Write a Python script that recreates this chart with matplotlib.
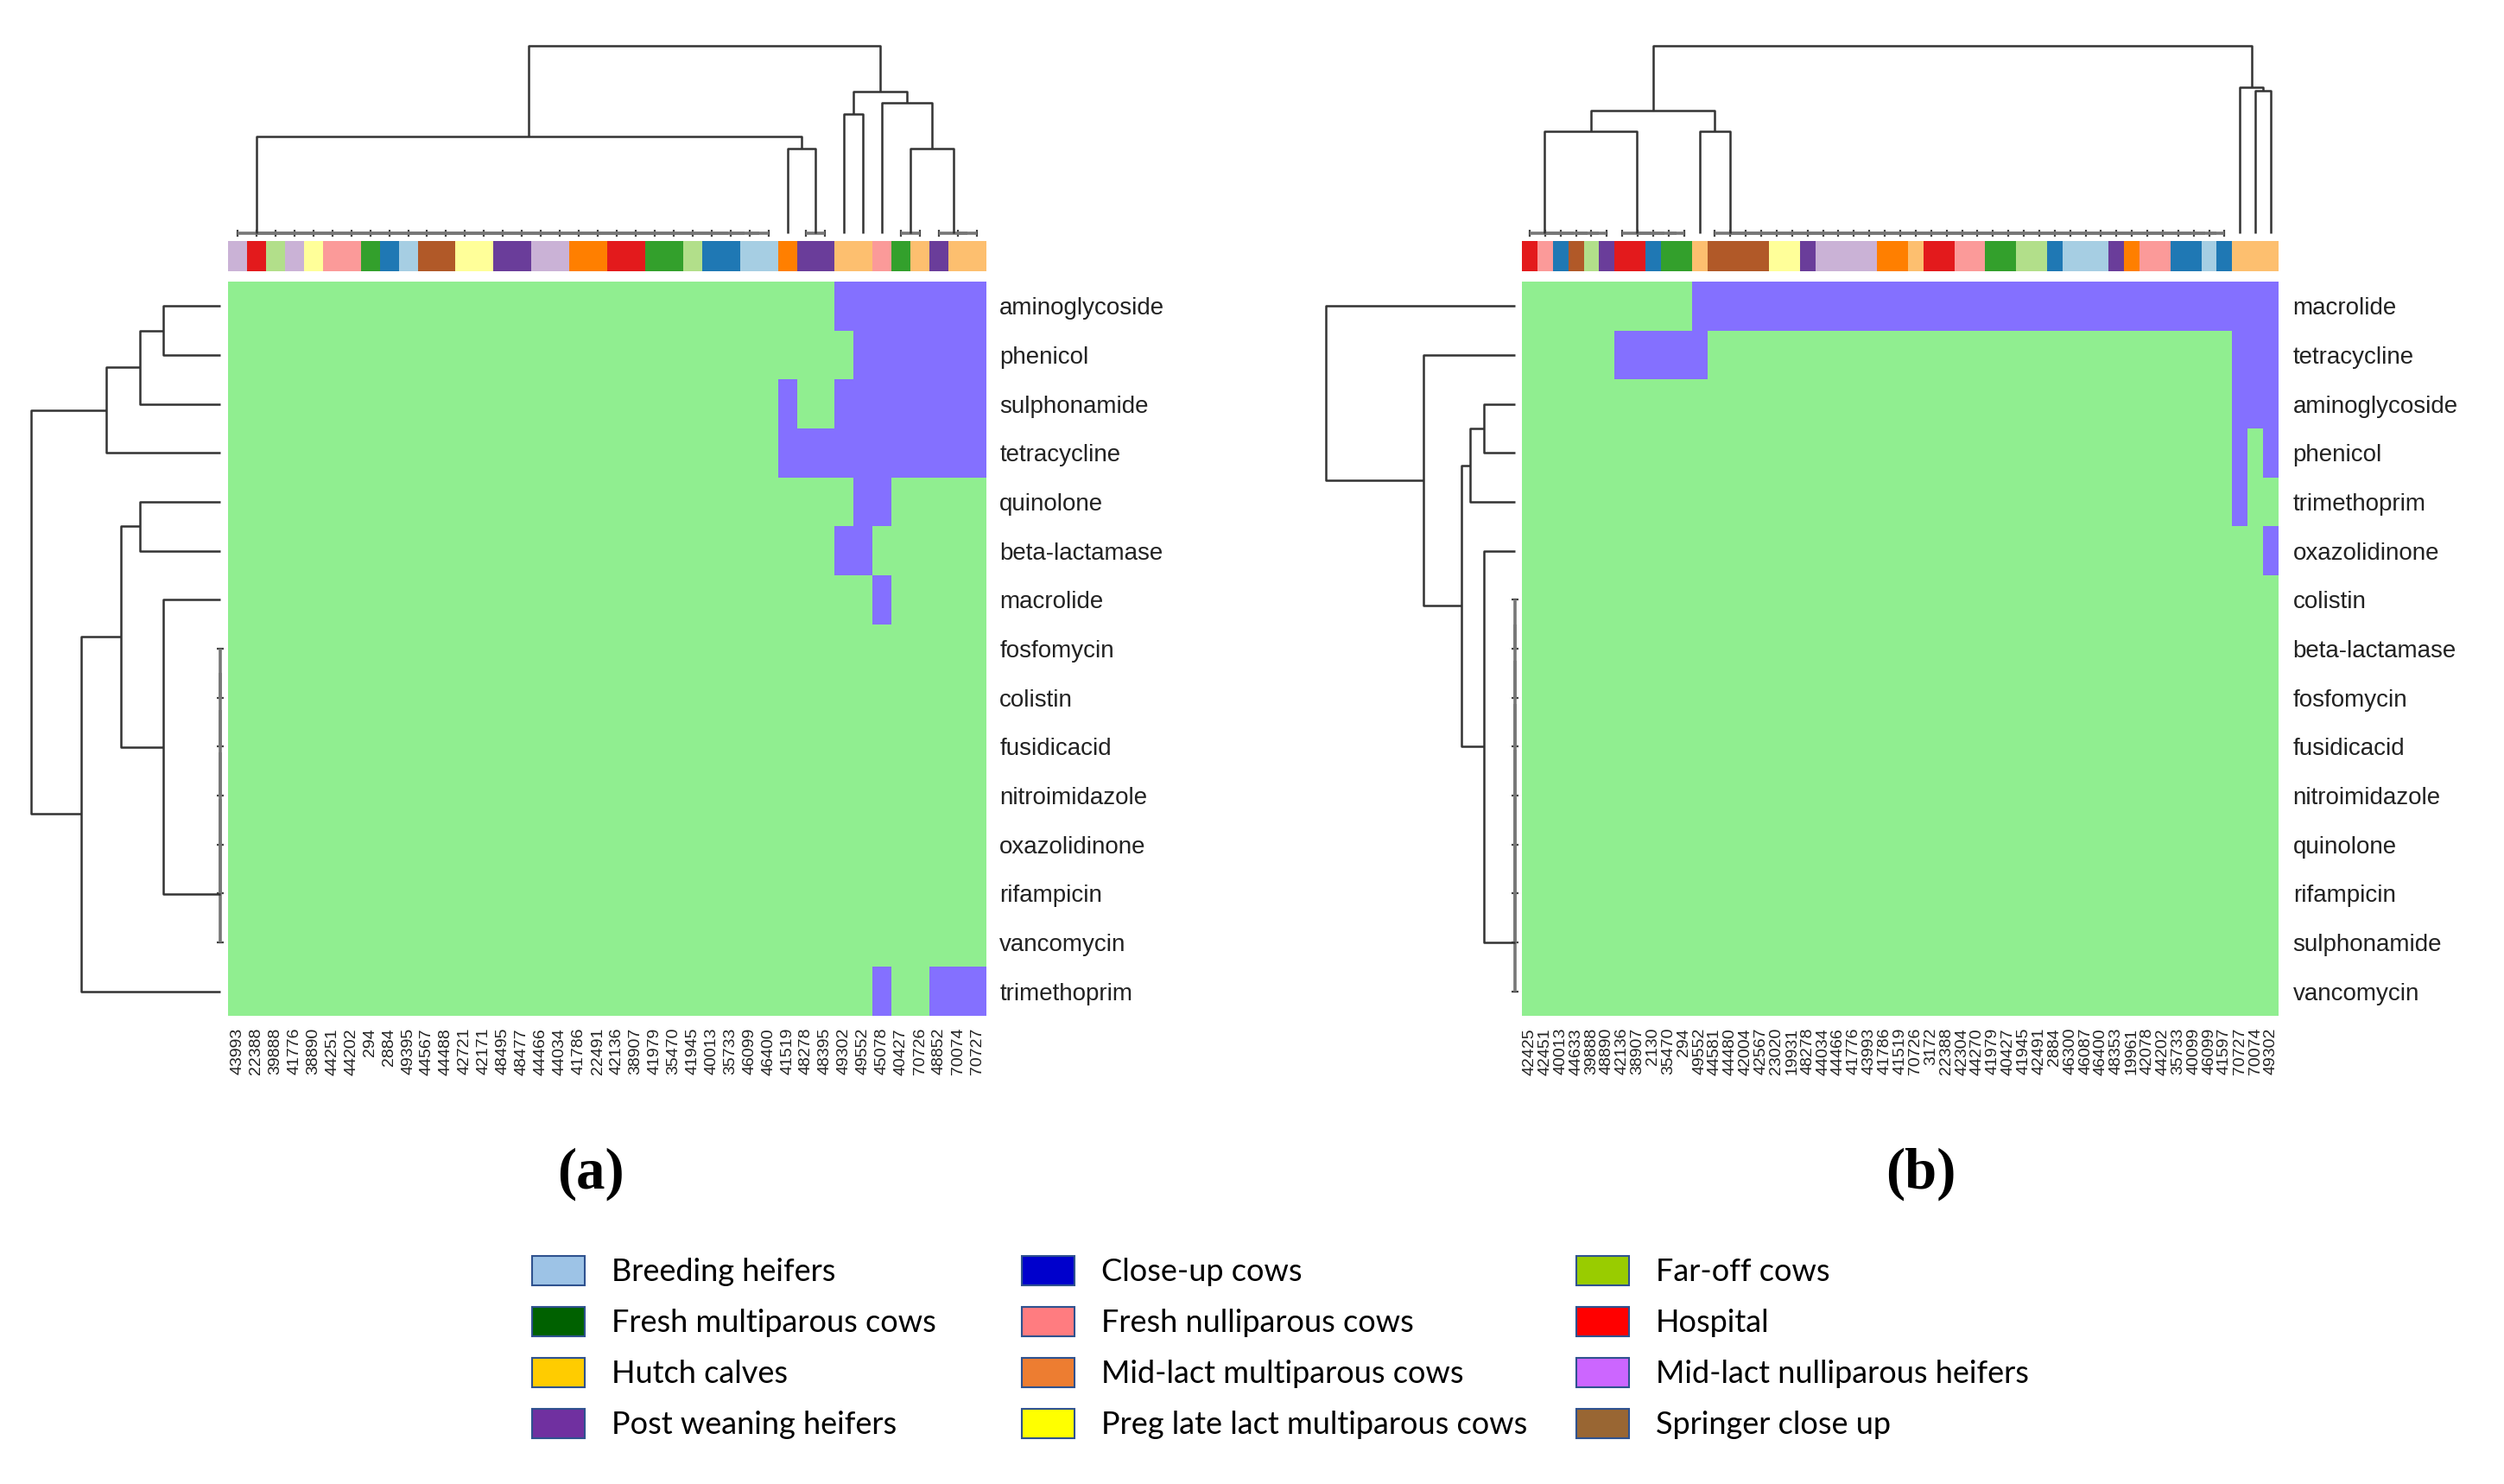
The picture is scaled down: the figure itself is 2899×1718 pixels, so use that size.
import numpy as np
import matplotlib.pyplot as plt
from matplotlib.colors import ListedColormap
from matplotlib.patches import Patch

W, H = 2899, 1718

# ---- groups (colour bar above heatmaps + legend) ----
groups = ['Breeding heifers', 'Close-up cows', 'Far-off cows', 'Fresh multiparous cows',
          'Fresh nulliparous cows', 'Hospital', 'Hutch calves', 'Mid-lact multiparous cows',
          'Mid-lact nulliparous heifers', 'Post weaning heifers',
          'Preg late lact multiparous cows', 'Springer close up']
group_codes = ['BH', 'CU', 'FO', 'FM', 'FN', 'HO', 'HC', 'MM', 'MN', 'PW', 'PL', 'SC']
bar_colors = ['#A6CEE3', '#1F78B4', '#B2DF8A', '#33A02C', '#FB9A99', '#E31A1C',
              '#FDBF6F', '#FF7F00', '#CAB2D6', '#6A3D9A', '#FFFF99', '#B15928']
legend_colors = ['#9DC3E6', '#0000CC', '#99CC00', '#006100', '#FF7C80', '#FF0000',
                 '#FFCC00', '#ED7D31', '#CC66FF', '#7030A0', '#FFFF00', '#996633']
heat_colors = ['#90EE90', '#8470FF']

# ---- panel (a) ----
a_rows = ['aminoglycoside', 'phenicol', 'sulphonamide', 'tetracycline', 'quinolone',
          'beta-lactamase', 'macrolide', 'fosfomycin', 'colistin', 'fusidicacid',
          'nitroimidazole', 'oxazolidinone', 'rifampicin', 'vancomycin', 'trimethoprim']
a_cols = ['43993', '22388', '39888', '41776', '38890', '44251', '44202', '294', '2884', '49395',
          '44567', '44488', '42721', '42171', '48495', '48477', '44466', '44034', '41786', '22491',
          '42136', '38907', '41979', '35470', '41945', '40013', '35733', '46099', '46400', '41519',
          '48278', '48395', '49302', '49552', '45078', '40427', '70726', '48852', '70074', '70727']
a_groups = ('MN HO FO MN PL FN FN FM CU BH SC SC PL PL PW PW MN MN MM MM '
            'HO HO FM FM FO CU CU BH BH MM PW PW HC HC FN FM HC PW HC HC').split()
a_hits = ['0000000000 0000000000 0000000000 0011111111',
          '0000000000 0000000000 0000000000 0001111111',
          '0000000000 0000000000 0000000001 0011111111',
          '0000000000 0000000000 0000000001 1111111111',
          '0000000000 0000000000 0000000000 0001100000',
          '0000000000 0000000000 0000000000 0011000000',
          '0000000000 0000000000 0000000000 0000100000',
          '0000000000 0000000000 0000000000 0000000000',
          '0000000000 0000000000 0000000000 0000000000',
          '0000000000 0000000000 0000000000 0000000000',
          '0000000000 0000000000 0000000000 0000000000',
          '0000000000 0000000000 0000000000 0000000000',
          '0000000000 0000000000 0000000000 0000000000',
          '0000000000 0000000000 0000000000 0000000000',
          '0000000000 0000000000 0000000000 0000100111']

# ---- panel (b) ----
b_rows = ['macrolide', 'tetracycline', 'aminoglycoside', 'phenicol', 'trimethoprim',
          'oxazolidinone', 'colistin', 'beta-lactamase', 'fosfomycin', 'fusidicacid',
          'nitroimidazole', 'quinolone', 'rifampicin', 'sulphonamide', 'vancomycin']
b_cols = ['42425', '42451', '40013', '44633', '39888', '48890', '42136', '38907', '2130', '35470',
          '294', '49552', '44581', '44480', '42004', '42567', '23020', '19931', '48278', '44034',
          '44466', '41776', '43993', '41786', '41519', '70726', '3172', '22388', '42304', '44270',
          '41979', '40427', '41945', '42491', '2884', '46300', '46087', '46400', '48353', '19961',
          '42078', '44202', '35733', '40099', '46099', '41597', '70727', '70074', '49302']
b_groups = ('HO FN CU SC FO PW HO HO CU FM FM HC SC SC SC SC PL PL PW MN '
            'MN MN MN MM MM HC HO HO FN FN FM FM FO FO CU BH BH BH PW MM '
            'FN FN CU CU BH CU HC HC HC').split()
b_hits = ['0000000000 0111111111 1111111111 1111111111 111111111',
          '0000001111 1100000000 0000000000 0000000000 000000111',
          '0000000000 0000000000 0000000000 0000000000 000000111',
          '0000000000 0000000000 0000000000 0000000000 000000101',
          '0000000000 0000000000 0000000000 0000000000 000000100',
          '0000000000 0000000000 0000000000 0000000000 000000001',
          '0000000000 0000000000 0000000000 0000000000 000000000',
          '0000000000 0000000000 0000000000 0000000000 000000000',
          '0000000000 0000000000 0000000000 0000000000 000000000',
          '0000000000 0000000000 0000000000 0000000000 000000000',
          '0000000000 0000000000 0000000000 0000000000 000000000',
          '0000000000 0000000000 0000000000 0000000000 000000000',
          '0000000000 0000000000 0000000000 0000000000 000000000',
          '0000000000 0000000000 0000000000 0000000000 000000000',
          '0000000000 0000000000 0000000000 0000000000 000000000']


def flat(first, last, side='right'):
    # identical leaves, joined at height 0
    if side == 'right':
        node = last
        for i in range(last - 1, first - 1, -1):
            node = (0, i, node)
    else:
        node = first
        for i in range(first + 1, last + 1):
            node = (0, node, i)
    return node


# dendrograms: (height, left, right), heights in % of root height
a_col_tree = (100, (51.7, flat(0, 28), (45.2, 29, flat(30, 31))),
              (75.8, (63.8, 32, 33), (69.8, 34, (45.2, flat(35, 36), flat(37, 39)))))
a_row_tree = (100, (60.5, (42.6, (30.1, 0, 1), 2), 3),
              (73.7, (52.4, (42.6, 4, 5), (30.1, 6, flat(7, 13, 'left'))), 14))
b_col_tree = (100, (65.4, (54.2, flat(0, 5), flat(6, 10)), (54.2, 11, flat(12, 45))),
              (77.7, 46, (76.2, 47, 48)))
b_row_tree = (100, 0, (48.6, 1, (28.5, (23.6, (16.3, 2, 3), 4),
                                 (16.3, 5, flat(6, 14, 'left')))))

fig = plt.figure(figsize=(W / 100, H / 100), dpi=100)


def box(x0, y0, x1, y1):
    ax = fig.add_axes([x0 / W, 1 - y1 / H, (x1 - x0) / W, (y1 - y0) / H])
    for s in ax.spines.values():
        s.set_visible(False)
    return ax


def draw_tree(ax, node, top=True):
    if isinstance(node, int):
        return node + 0.5, 0
    h, a, b = node
    pa, ha = draw_tree(ax, a, top)
    pb, hb = draw_tree(ax, b, top)
    xs, ys = [pa, pa, pb, pb], [ha, h, h, hb]
    if h == 0:
        kw = dict(color='#777777', lw=2.6)
        mk = '|' if top else '_'
        for p, c in ((pa, a), (pb, b)):
            if isinstance(c, int):
                if top:
                    ax.plot([p], [0], marker=mk, ms=6, mew=1.6, color='#444444', clip_on=False)
                else:
                    ax.plot([0], [p], marker=mk, ms=6, mew=1.6, color='#444444', clip_on=False)
    else:
        kw = dict(color='#333333', lw=1.8)
    if top:
        ax.plot(xs, ys, clip_on=False, solid_capstyle='butt', **kw)
    else:
        ax.plot(ys, xs, clip_on=False, solid_capstyle='butt', **kw)
    return (pa + pb) / 2, h


def panel(x0, x1, xr0, xr1, rows, cols, grp, hits, ctree, rtree, rpad):
    nr, nc = len(rows), len(cols)
    mat = np.array([[int(c) for c in s.replace(' ', '')] for s in hits])
    codes = np.array([group_codes.index(g) for g in grp])

    ax = box(x0, 326, x1, 1176)
    ax.pcolormesh(mat, cmap=ListedColormap(heat_colors), vmin=0, vmax=1)
    ax.set_xlim(0, nc)
    ax.set_ylim(nr, 0)
    ax.set_xticks(np.arange(nc) + 0.5)
    ax.set_xticklabels(cols, rotation=90, fontsize=14, family='Liberation Sans', color='#222222')
    ax.yaxis.tick_right()
    ax.set_yticks(np.arange(nr) + 0.5)
    ax.set_yticklabels(rows, fontsize=20, family='Liberation Sans', color='#222222')
    ax.tick_params(axis='x', length=0, pad=10)
    ax.tick_params(axis='y', length=0, pad=rpad)

    axb = box(x0, 279, x1, 314)
    axb.pcolormesh(codes[None, :], cmap=ListedColormap(bar_colors), vmin=-0.5, vmax=11.5)
    axb.set_xlim(0, nc)
    axb.axis('off')

    axc = box(x0, 53, x1, 270)
    draw_tree(axc, ctree, top=True)
    axc.set_xlim(0, nc)
    axc.set_ylim(0, 100)
    axc.axis('off')

    axr = box(xr0, 326, xr1, 1176)
    draw_tree(axr, rtree, top=False)
    axr.set_xlim(100, 0)
    axr.set_ylim(nr, 0)
    axr.axis('off')


panel(264, 1142, 36, 255, a_rows, a_cols, a_groups, a_hits, a_col_tree, a_row_tree, 11)
panel(1762, 2638, 1535, 1754, b_rows, b_cols, b_groups, b_hits, b_col_tree, b_row_tree, 12)

fig.text(684 / W, 1 - 1359 / H, '(a)', ha='center', va='center', fontsize=48,
         family='Liberation Serif', weight='bold')
fig.text(2224 / W, 1 - 1359 / H, '(b)', ha='center', va='center', fontsize=48,
         family='Liberation Serif', weight='bold')

# legend laid out row-wise in three columns
for k, xl in enumerate([616, 1183, 1825]):
    handles = [Patch(facecolor=legend_colors[i], edgecolor='#2F528F', lw=1.5, label=groups[i])
               for i in range(k, 12, 3)]
    fig.legend(handles=handles, loc='upper left', bbox_to_anchor=(xl / W, 1 - 1454 / H),
               frameon=False, borderpad=0, borderaxespad=0, handlelength=1.7,
               handleheight=1.08, handletextpad=0.85, labelspacing=0.65,
               prop={'family': 'Lato', 'size': 26})

fig.savefig('out.png', dpi=100)
